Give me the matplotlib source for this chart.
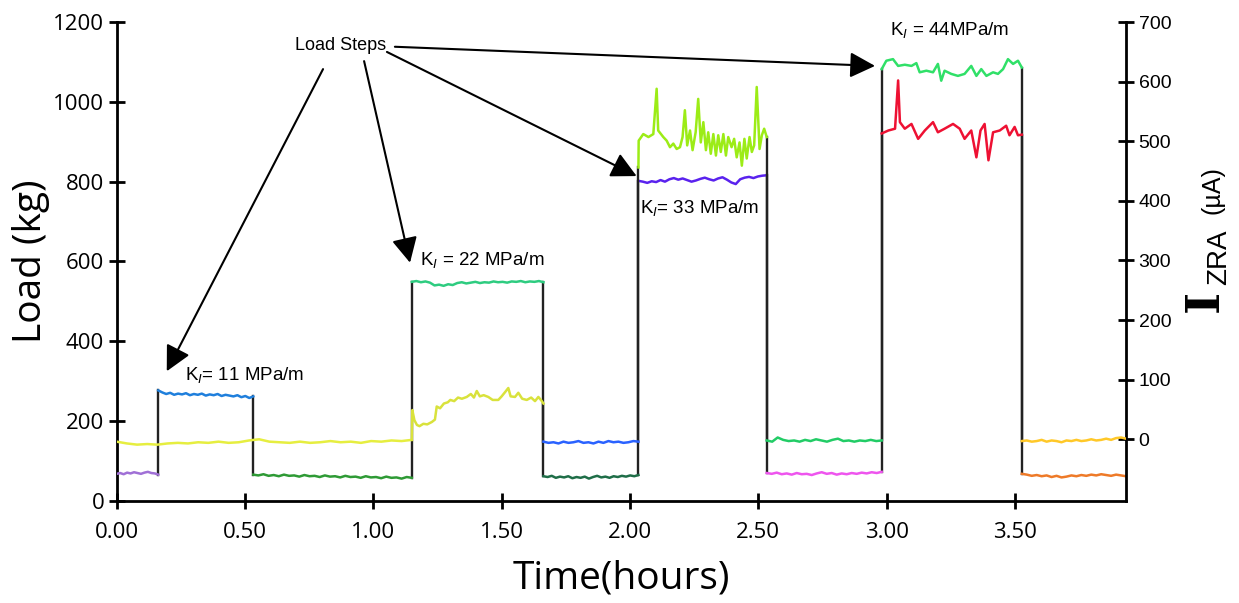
import numpy as np
import matplotlib
matplotlib.use("Agg")
import matplotlib.pyplot as plt

# -----------------------------------------------------------------------------
# Data: load plateaus (kg) and ZRA current (uA) for each load step

step_times = [0.0, 0.162, 0.532, 1.150, 1.663, 2.033, 2.533, 2.981, 3.527, 3.933]

load_purple = [68, 70, 67, 71, 69, 72, 70, 68, 71, 73, 70, 69, 66]
load_blue = [277, 272, 268, 271, 266, 269, 267, 270, 265, 268, 266, 269, 264,
             267, 265, 268, 263, 266, 264, 262, 265, 260, 263, 258, 262]
load_green = [66, 64, 67, 63, 65, 62, 66, 63, 64, 61, 65, 62, 63, 60, 64, 61,
              62, 59, 63, 60, 61, 58, 62, 59, 60, 57, 61, 58, 59, 56, 60, 58]
load_22 = [549, 551, 548, 550, 547, 540, 542, 539, 543, 541, 546, 548, 545, 547,
           549, 546, 548, 547, 550, 548, 549, 547, 550, 549, 551, 548, 550, 549,
           551, 548]
load_darkgreen = [62, 60, 63, 58, 61, 59, 62, 57, 60, 58, 61, 56, 60, 63, 59,
                  61, 58, 62, 60, 63, 61, 64, 62, 65]
load_33 = [802, 800, 797, 801, 799, 804, 800, 806, 809, 805, 808, 804, 800, 803,
           807, 810, 806, 803, 808, 811, 805, 798, 794, 806, 810, 812, 809, 813,
           815, 816]
load_magenta = [70, 68, 71, 67, 69, 66, 70, 67, 68, 65, 69, 72, 68, 70, 66, 69,
                67, 70, 68, 71, 69, 72, 70, 73]
t_44 = [2.981, 2.999, 3.025, 3.045, 3.071, 3.097, 3.116, 3.129, 3.155, 3.181,
        3.200, 3.213, 3.226, 3.252, 3.278, 3.304, 3.330, 3.350, 3.369, 3.389,
        3.415, 3.434, 3.454, 3.473, 3.493, 3.512, 3.527]
load_44 = [1082, 1103, 1107, 1090, 1093, 1090, 1097, 1074, 1078, 1074, 1095,
           1053, 1078, 1070, 1065, 1070, 1090, 1065, 1082, 1065, 1074, 1070,
           1082, 1107, 1095, 1103, 1086]
load_orange = [68, 66, 63, 65, 62, 64, 60, 63, 59, 61, 64, 62, 65, 63, 66, 64,
               67, 65, 63, 66, 64, 62]

cur_yellow = [-4, -7, -9, -8, -9, -7, -6, -7, -5, -6, -4, -6, -5, -2, 0, -4, -5,
              -6, -4, -6, -5, -3, -5, -4, -6, -3, -4, -2, -3, -1]
t_cur_22 = [1.150, 1.152, 1.160, 1.170, 1.180, 1.195, 1.210, 1.228, 1.240, 1.247,
            1.260, 1.275, 1.290, 1.300, 1.315, 1.330, 1.345, 1.364, 1.380, 1.392,
            1.403, 1.415, 1.430, 1.448, 1.465, 1.487, 1.500, 1.515, 1.526, 1.535,
            1.552, 1.565, 1.580, 1.598, 1.615, 1.630, 1.643, 1.655, 1.663]
cur_22 = [-1, 49, 32, 24, 22, 26, 25, 29, 33, 55, 52, 60, 62, 66, 64, 70, 68, 71,
          76, 70, 81, 72, 74, 71, 66, 66, 72, 80, 86, 72, 71, 78, 68, 66, 70, 64,
          71, 65, 60]
cur_blue = [-4, -6, -5, -7, -4, -6, -5, -3, -6, -5, -7, -4, -6, -3, -5, -4, -6,
            -5, -3, -4]
t_cur_33 = [2.033, 2.034, 2.052, 2.072, 2.091, 2.104, 2.110, 2.130, 2.143, 2.156,
            2.169, 2.182, 2.195, 2.205, 2.214, 2.223, 2.234, 2.244, 2.256, 2.266,
            2.276, 2.286, 2.296, 2.305, 2.315, 2.325, 2.335, 2.344, 2.354, 2.364,
            2.374, 2.383, 2.396, 2.406, 2.416, 2.427, 2.436, 2.446, 2.455, 2.466,
            2.475, 2.484, 2.494, 2.505, 2.514, 2.523, 2.533]
cur_33 = [456, 501, 512, 507, 512, 588, 518, 507, 501, 490, 496, 487, 490, 507,
          552, 493, 518, 485, 515, 571, 498, 532, 485, 515, 479, 512, 476, 510,
          482, 512, 476, 507, 490, 504, 473, 498, 459, 504, 471, 507, 482, 493,
          591, 487, 510, 521, 507]
cur_green = [-2, -4, 3, -1, -3, -2, -4, -1, -3, 0, -2, -4, -1, 1, -3, -2, -4, -2,
             -3, -1, -3, -2]
t_cur_44 = [2.981, 3.007, 3.033, 3.045, 3.052, 3.071, 3.097, 3.123, 3.149, 3.181,
            3.200, 3.226, 3.259, 3.285, 3.304, 3.330, 3.350, 3.366, 3.382, 3.397,
            3.415, 3.441, 3.466, 3.479, 3.499, 3.512, 3.527]
cur_44 = [513, 518, 521, 602, 532, 521, 529, 504, 518, 532, 515, 521, 529, 521,
          504, 518, 473, 518, 529, 468, 515, 518, 526, 510, 524, 510, 511]
cur_orange = [-3, -2, -4, -3, -1, -4, -2, -3, -5, -2, -3, -1, -3, -2, 0, -2, -1,
              1, -1, 2, 3, 1]


def flat(i0, i1, values):
    """Spread plateau readings evenly between step boundaries i0 and i1."""
    return np.linspace(step_times[i0], step_times[i1], len(values)), values


load_segments = [
    (*flat(0, 1, load_purple), "#a070d6"),
    (*flat(1, 2, load_blue), "#1f7fdc"),
    (*flat(2, 3, load_green), "#2e9a35"),
    (*flat(3, 4, load_22), "#2ecc80"),
    (*flat(4, 5, load_darkgreen), "#1f6e48"),
    (*flat(5, 6, load_33), "#5a22ee"),
    (*flat(6, 7, load_magenta), "#ee55ee"),
    (t_44, load_44, "#30e068"),
    (*flat(8, 9, load_orange), "#ee7a28"),
]
current_segments = [
    (*flat(0, 3, cur_yellow), "#e6ee40"),
    (t_cur_22, cur_22, "#d9e23c"),
    (*flat(4, 5, cur_blue), "#2a62ff"),
    (t_cur_33, cur_33, "#9cec16"),
    (*flat(6, 7, cur_green), "#22cc66"),
    (t_cur_44, cur_44, "#ee1133"),
    (*flat(8, 9, cur_orange), "#ffc828"),
]

# -----------------------------------------------------------------------------
# Plot

plt.rcParams["mathtext.fontset"] = "custom"
plt.rcParams["mathtext.rm"] = "Liberation Sans"
plt.rcParams["mathtext.it"] = "Liberation Sans:italic"

fig = plt.figure(figsize=(12.39, 6.03), dpi=100)
ax = fig.add_axes([0.0942, 0.1692, 0.8146, 0.7943])
ax2 = ax.twinx()

# black step transitions of the load
for a, b in zip(load_segments[:-1], load_segments[1:]):
    ax.plot([a[0][-1], b[0][0]], [a[1][-1], b[1][0]], color="#222222", lw=1.7,
            zorder=2)
for t, v, c in load_segments:
    ax.plot(t, v, color=c, lw=1.8, zorder=3)

# current transitions (black except the 22 MPa step)
for k, (a, b) in enumerate(zip(current_segments[:-1], current_segments[1:])):
    if k == 0:
        continue
    ax2.plot([a[0][-1], b[0][0]], [a[1][-1], b[1][0]], color="#222222", lw=1.7,
             zorder=2)
for t, v, c in current_segments:
    ax2.plot(t, v, color=c, lw=1.8, zorder=3)

ax.set_xlim(0, 3.933)
ax.set_ylim(0, 1200)
ax2.set_ylim(-103.5, 700)
ax.set_xticks(np.arange(0, 3.51, 0.5))
ax.set_xticklabels([f"{x:.2f}" for x in np.arange(0, 3.51, 0.5)])
ax.set_yticks(range(0, 1201, 200))
ax2.set_yticks(range(0, 701, 100))

for a in (ax, ax2):
    a.spines["top"].set_visible(False)
    for s in a.spines.values():
        s.set_linewidth(2.0)
ax.spines["right"].set_visible(False)
ax2.spines["left"].set_visible(False)
ax2.spines["bottom"].set_visible(False)

ax.tick_params(axis="both", direction="inout", length=12, width=2.0,
               labelsize=16, colors="black")
ax.tick_params(axis="y", pad=3)
ax.tick_params(axis="x", pad=9)
for lab in ax.get_xticklabels() + ax.get_yticklabels():
    lab.set_fontfamily("Open Sans")
ax2.tick_params(axis="y", direction="inout", length=12, width=2.0,
                labelsize=14, pad=3)
for lab in ax2.get_yticklabels():
    lab.set_fontfamily("Liberation Sans")

ax.set_ylabel("Load (kg)", fontfamily="Open Sans", fontsize=28, labelpad=2)
ax.set_xlabel("Time(hours)", fontfamily="Open Sans", fontsize=28, labelpad=12)

# right axis label: I_ZRA (uA)
fig.text(1205 / 1239, 1 - 301 / 603, "I", rotation=90, ha="center",
         va="center", fontfamily="DejaVu Serif", fontsize=34, fontweight="bold")
fig.text(1219 / 1239, 1 - 257 / 603, "ZRA", rotation=90, ha="center",
         va="center", fontfamily="Liberation Sans", fontsize=20)
fig.text(1212 / 1239, 1 - 190 / 603, "(\u00b5A)", rotation=90, ha="center",
         va="center", fontfamily="Liberation Sans", fontsize=18)

# load step arrows
arrow = dict(arrowstyle="-|>,head_length=0.55,head_width=0.28", color="black",
             lw=1.5, mutation_scale=28, shrinkA=0, shrinkB=0)
tips = [(0.195, 325), (1.143, 597), (2.026, 814), (2.955, 1090)]
tails = [(0.804, 1082), (0.964, 1102), (1.053, 1125), (1.084, 1138)]
for tip, tail in zip(tips, tails):
    ax.annotate("", xy=tip, xytext=tail, arrowprops=arrow)
ax.text(0.871, 1140, "Load Steps", ha="center", va="center",
        fontfamily="Liberation Sans", fontsize=13)

kfont = dict(fontfamily="Liberation Sans", fontsize=13.5, ha="left", va="center")
ax.text(0.266, 316, r"K$_I$= 11 MPa/m", **kfont)
ax.text(1.183, 603, r"K$_I$ = 22 MPa/m", **kfont)
ax.text(2.039, 734, r"K$_I$= 33 MPa/m", **kfont)
ax.text(3.014, 1180, r"K$_I$ = 44MPa/m", **kfont)

plt.savefig("out.png", dpi=100)
